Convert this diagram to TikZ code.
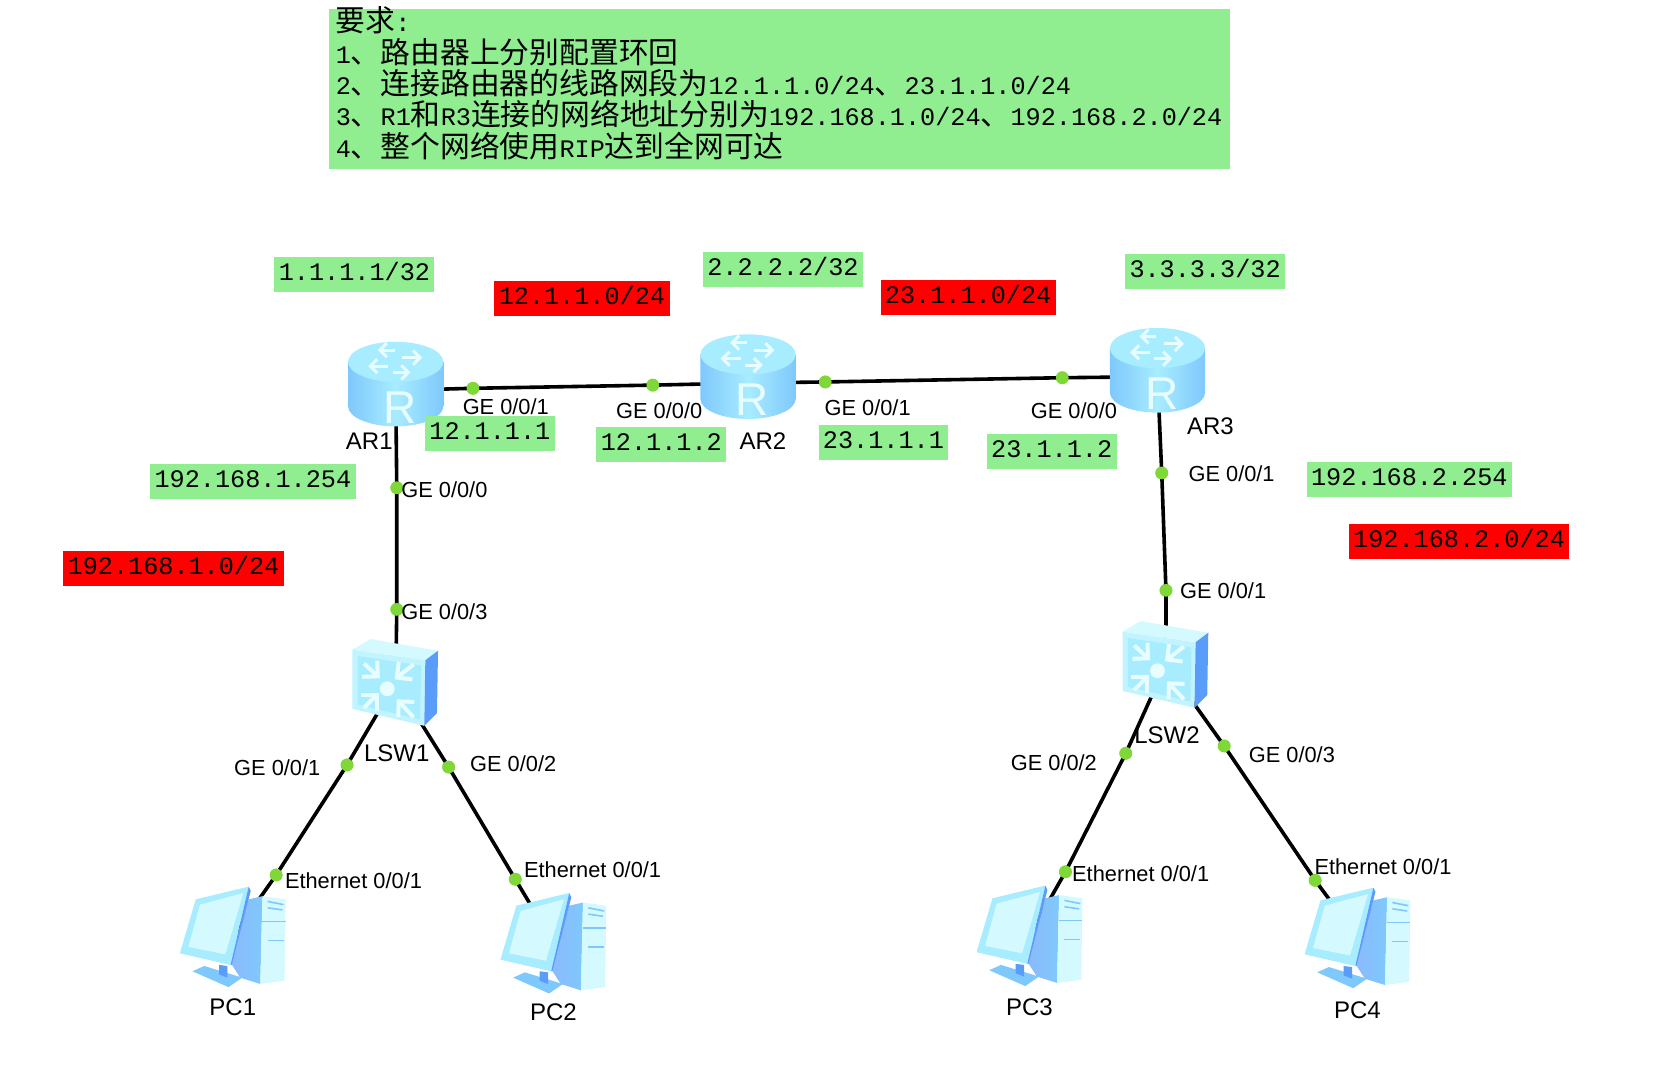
\documentclass[tikz,border=0pt]{standalone}
\usepackage{fontspec}
\setmainfont{Liberation Sans}
\newfontfamily\monofont{Liberation Mono}
\newfontfamily\cjk{Noto Sans CJK SC}
\usepackage{xcolor}
\usetikzlibrary{arrows.meta}

\definecolor{notegreen}{HTML}{90EE90}
\definecolor{dotgreen}{HTML}{80D838}
\definecolor{iceblue}{HTML}{A8ECFF}
\definecolor{paleblue}{HTML}{D4FAFF}
\definecolor{midblue}{HTML}{7FC8FC}
\definecolor{deepblue}{HTML}{5A9CFA}
\definecolor{glowwhite}{HTML}{E8FDFF}

\newcommand{\cn}[1]{{\cjk\fontsize{14.9}{15.7}\selectfont #1}}

\tikzset{
  device/.style={inner sep=0pt, minimum size=1pt},
  link/.style={line width=1.8pt, black},
  port/.style={fill=dotgreen, circle, inner sep=0pt, minimum size=6.4pt},
  tag/.style={font=\fontsize{10.9}{12}\selectfont, inner sep=0pt, text=black},
  devname/.style={font=\fontsize{12}{14}\selectfont, inner sep=0pt, text=black},
  netbox/.style={font=\monofont\fontsize{12.6}{14}\selectfont, inner xsep=2.2pt, inner ysep=0pt,
    text height=9pt, text depth=3pt, minimum height=17.5pt},
  iparrow/.style={draw=glowwhite, line width=1.5pt, -{Straight Barb[length=3.5pt,width=7pt]}},
  swarrow/.style={draw=glowwhite, line width=2pt, -{Straight Barb[length=5.5pt,width=11pt]}},
  routerpic/.pic={
    \shade[left color=midblue, right color=midblue, middle color=iceblue]
      (-45,-27) -- (-45,15) arc[start angle=180, end angle=0, x radius=45, y radius=19] -- (45,-27) -- cycle;
    \fill[iceblue] (0,-27) ellipse [x radius=45, y radius=19];
    \draw[iparrow] (-1,-38) -- (-17,-38);
    \draw[iparrow] (6,-31) -- (25,-31);
    \draw[iparrow] (-7,-23) -- (-26,-23);
    \draw[iparrow] (-3,-17) -- (14,-17);
    \node[font=\fontsize{23}{25}\selectfont, text=glowwhite, inner sep=0pt] at (4,16) {R};
  },
  switchpic/.pic={
    \fill[paleblue!60!iceblue] (-41,-31) -- (28,-21) -- (27,41) -- (-41,25) -- cycle;
    \fill[iceblue] (-36,-25) -- (24,-16) -- (23,35) -- (-36,21) -- cycle;
    \fill[paleblue] (-41,-31) -- (-24,-41) -- (40,-30) -- (28,-21) -- cycle;
    \fill[deepblue] (28,-21) -- (40,-30) -- (39,29) -- (27,41) -- cycle;
    \draw[swarrow] (-30,-18) -- (-15,-4);
    \draw[swarrow] (17,-17) -- (-1,-3);
    \draw[swarrow] (-30,24) -- (-16,10);
    \draw[swarrow] (17,33) -- (1,16);
    \fill[glowwhite] (-8,6) circle [radius=7];
  },
  pcpic/.pic={
    % tower
    \shade[left color=deepblue!70, right color=midblue] (15,-35) -- (28,-38) -- (26,45) -- (7,39) -- (-2,25) -- cycle;
    \fill[paleblue] (28,-38) -- (50,-35) -- (49,42) -- (26,45) -- cycle;
    \draw[midblue, line width=0.8pt] (33,-33) -- (48,-30);
    \draw[midblue, line width=0.8pt] (33,-27) -- (47,-25);
    \draw[midblue, line width=0.8pt] (28,-14) -- (50,-14);
    \draw[midblue, line width=0.8pt] (33,4) -- (48,4);
    % stand
    \fill[midblue] (-38,33) -- (-27,28) -- (9,39) -- (-4,48) -- cycle;
    \fill[deepblue] (-13,27) -- (-5,28) -- (-5,39) -- (-13,36) -- cycle;
    % monitor
    \fill[iceblue] (-35,-35) -- (15,-47) -- (-2,27) -- (-50,16) -- cycle;
    \fill[deepblue] (15,-47) -- (17,-43) -- (-1,27) -- (-2,27) -- cycle;
    \fill[paleblue] (-31,-30) -- (10,-41) -- (-7,17) -- (-42,10) -- cycle;
  }
}

\begin{document}
\begin{tikzpicture}[x=0.529pt, y=-0.529pt]
\useasboundingbox (0,0) rectangle (1568,1016);

% Devices
\foreach \i/\x/\y in {1/374/369, 2/707/362, 3/1094/356} {
    \node[device] (AR\i) at (\x,\y) {};
}
\foreach \i/\x/\y in {1/374/645, 2/1102/628} {
    \node[device] (LSW\i) at (\x,\y) {};
}
\foreach \i/\x/\y in {1/220/885, 2/523/891, 3/973/884, 4/1283/886} {
    \node[device] (PC\i) at (\x,\y) {};
}

% Ports on the lines
\foreach \i/\x/\y in {1/447/367, 2/617/364, 3/780/361, 4/1004/357, 5/375/461, 6/375/576,
    7/1098/447, 8/1102/558, 9/328/723, 10/261/827, 11/424/725, 12/487/831,
    13/1064/712, 14/1007/824, 15/1157/705, 16/1243/832} {
    \node[port] (p\i) at (\x,\y) {};
}

% Links
\foreach \src/\pa/\pb/\dst in {AR1/p1/p2/AR2, AR2/p3/p4/AR3, AR1/p5/p6/LSW1, AR3/p7/p8/LSW2,
    LSW1/p9/p10/PC1, LSW1/p11/p12/PC2, LSW2/p13/p14/PC3, LSW2/p15/p16/PC4} {
    \draw[link] (\src.center) -- (\pa.center) -- (\pb.center) -- (\dst.center);
}

% Redraw ports above the links
\foreach \i in {1,...,16} {
    \fill[dotgreen] (p\i) circle [radius=6];
}

% Icons
\foreach \i in {1,2,3} {
    \pic at (AR\i) {routerpic};
}
\foreach \i in {1,2} {
    \pic at (LSW\i) {switchpic};
}
\foreach \i in {1,2,3,4} {
    \pic at (PC\i) {pcpic};
}

% Requirements
\node[fill=notegreen, anchor=north west, inner sep=0pt,
    minimum width=450.2pt, minimum height=79.9pt] (note) at (311,8) {};
\node[anchor=north west, align=left, inner sep=0pt,
    font=\monofont\fontsize{12.6}{15.7}\selectfont] (notetext) at (317,6) {%
\cn{要求}:\\
1\cn{、路由器上分别配置环回}\\
2\cn{、连接路由器的线路网段为}12.1.1.0/24\cn{、}23.1.1.0/24\\
3\cn{、}R1\cn{和}R3\cn{连接的网络地址分别为}192.168.1.0/24\cn{、}192.168.2.0/24\\
4\cn{、整个网络使用}RIP\cn{达到全网可达}};

% Green address boxes
\foreach \i/\x/\y/\txt in {1/335/259/{1.1.1.1/32}, 2/740/255/{2.2.2.2/32}, 3/1139/257/{3.3.3.3/32},
    4/463/410/{12.1.1.1}, 5/625/420/{12.1.1.2}, 6/835/418/{23.1.1.1}, 7/994/427/{23.1.1.2},
    8/239/455/{192.168.1.254}, 9/1332/453/{192.168.2.254}} {
    \node[netbox, fill=notegreen] (addr\i) at (\x,\y) {\txt};
}

% Red network boxes
\foreach \i/\x/\y/\txt in {1/550/282/{12.1.1.0/24}, 2/915/281/{23.1.1.0/24},
    3/164/537/{192.168.1.0/24}, 4/1379/512/{192.168.2.0/24}} {
    \node[netbox, fill=red] (net\i) at (\x,\y) {\txt};
}

% Interface names
\foreach \i/\x/\y/\txt in {1/437/384/{GE 0/0/1}, 2/582/388/{GE 0/0/0}, 3/779/385/{GE 0/0/1},
    4/974/388/{GE 0/0/0}, 5/379/463/{GE 0/0/0}, 6/379/578/{GE 0/0/3}, 7/1123/448/{GE 0/0/1},
    8/1115/558/{GE 0/0/1}, 9/221/726/{GE 0/0/1}, 10/444/722/{GE 0/0/2}, 11/955/721/{GE 0/0/2},
    12/1180/713/{GE 0/0/3}, 13/269/832/{Ethernet 0/0/1}, 14/495/822/{Ethernet 0/0/1},
    15/1013/826/{Ethernet 0/0/1}, 16/1242/819/{Ethernet 0/0/1}} {
    \node[tag, anchor=west] (if\i) at (\x,\y) {\txt};
}

% Device names
\foreach \i/\x/\y/\txt in {1/349/417/AR1, 2/721/417/AR2, 3/1144/403/AR3, 4/375/712/LSW1,
    5/1103/695/LSW2, 6/220/952/PC1, 7/523/957/PC2, 8/973/952/PC3, 9/1283/955/PC4} {
    \node[devname] (name\i) at (\x,\y) {\txt};
}
\end{tikzpicture}
\end{document}
